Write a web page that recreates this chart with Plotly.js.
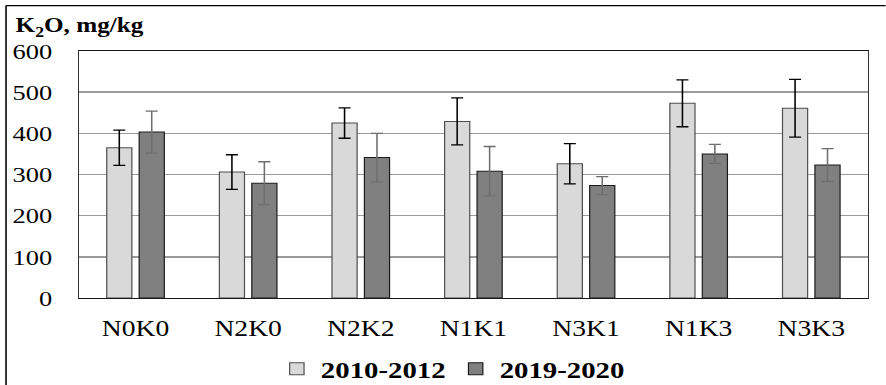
<!DOCTYPE html>
<html>
<head>
<meta charset="utf-8">
<script src="https://cdn.plot.ly/plotly-3.0.1.min.js"></script>
<style>
  html, body { margin: 0; padding: 0; background: #ffffff; overflow: hidden; }
  /* the chart is laid out narrow and widened horizontally, giving the broad serif lettering */
  #chart { width: 738px; height: 385px; transform: scaleX(1.2); transform-origin: 0 0; }
</style>
</head>
<body>
<div id="chart"></div>
<script>
// Exchangeable potassium (K2O, mg/kg) by fertilisation treatment
const treatments = ['N0K0', 'N2K0', 'N2K2', 'N1K1', 'N3K1', 'N1K3', 'N3K3'];
const period1Name = '2010-2012';
const period1Mean = [365, 306, 425, 429, 326, 473, 461];
const period1Err  = [43, 42, 37, 57, 49, 57, 70];
const period2Name = '2019-2020';
const period2Mean = [403, 279, 341, 308, 273, 350, 323];
const period2Err  = [51, 52, 59, 60, 22, 23, 40];
const yTicks = [0, 100, 200, 300, 400, 500, 600];

const serif = 'Liberation Serif, Times New Roman, serif';

const traces = [
  {
    type: 'bar', name: period1Name, x: treatments, y: period1Mean,
    marker: { color: '#d9d9d9', line: { color: '#4d4d4d', width: 1 } },
    error_y: { type: 'data', array: period1Err, visible: true, color: '#000000', thickness: 1.3, width: 5 }
  },
  {
    type: 'bar', name: period2Name, x: treatments, y: period2Mean,
    marker: { color: '#808080', line: { color: '#1a1a1a', width: 1 } },
    error_y: { type: 'data', array: period2Err, visible: true, color: '#6e6e6e', thickness: 1.3, width: 5 }
  }
];

const layout = {
  width: 738, height: 385,
  margin: { l: 66, r: 15, t: 51, b: 87 },
  paper_bgcolor: '#ffffff', plot_bgcolor: '#ffffff',
  barmode: 'group', bargap: 0.424, bargroupgap: 0.225,
  showlegend: true,
  font: { family: serif, color: '#000000' },
  title: {
    text: '<b>K<sub>2</sub>O, mg/kg</b>',
    font: { family: serif, size: 21, color: '#000000' },
    xref: 'container', x: 13 / 738, xanchor: 'left',
    yref: 'container', y: 1 - 25 / 385, yanchor: 'middle'
  },
  xaxis: {
    type: 'category', showgrid: false, zeroline: false,
    showline: true, linecolor: '#1a1a1a', linewidth: 1.3, mirror: true,
    ticks: '', ticklabelstandoff: 9,
    tickfont: { family: serif, size: 23, color: '#000000' }
  },
  yaxis: {
    range: [0, 600], tickmode: 'array', tickvals: yTicks, ticktext: yTicks.map(String),
    showgrid: true, gridcolor: '#9a9a9a', gridwidth: 1.6, zeroline: false,
    showline: true, linecolor: '#333333', linewidth: 1.2, mirror: true,
    ticks: '', ticklabelstandoff: 17,
    tickfont: { family: serif, size: 22, color: '#000000' }
  },
  legend: {
    orientation: 'h', xref: 'container', x: 0.51, xanchor: 'center',
    yref: 'container', y: 0.041, yanchor: 'middle',
    font: { family: serif, size: 24, color: '#000000', weight: 'bold' },
    bgcolor: 'rgba(0,0,0,0)', itemclick: false, itemdoubleclick: false
  },
  shapes: [
    // outer chart frame (left and top edges inside the view)
    { type: 'line', xref: 'paper', yref: 'paper', x0: -0.0928, x1: -0.0928, y0: 1.184, y1: -0.40,
      line: { color: '#000000', width: 1.3 } },
    { type: 'line', xref: 'paper', yref: 'paper', x0: -0.0928, x1: 1.05, y0: 1.184, y1: 1.184,
      line: { color: '#000000', width: 1.3 } }
  ]
};

Plotly.newPlot('chart', traces, layout, { staticPlot: true, displayModeBar: false });
</script>
</body>
</html>
